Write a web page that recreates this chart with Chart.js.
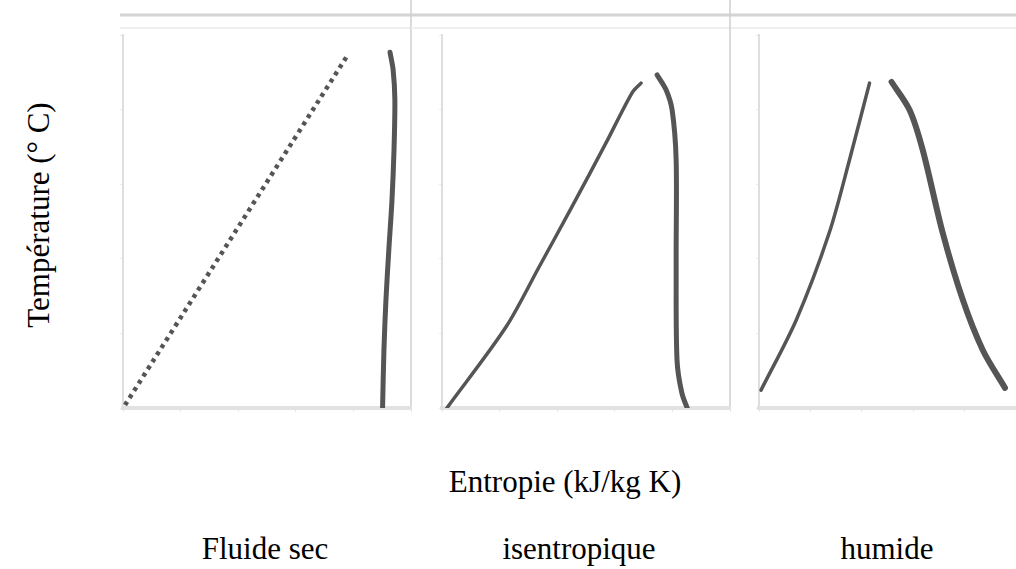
<!DOCTYPE html>
<html>
<head>
<meta charset="utf-8">
<script src="https://cdn.jsdelivr.net/npm/chart.js@4/dist/chart.umd.min.js"></script>
<style>
  body { margin: 0; background: #fff; width: 1016px; height: 569px; overflow: hidden; position: relative; font-family: "Liberation Serif", "DejaVu Serif", serif; }
  canvas { position: absolute; top: 0; }
  .lbl { position: absolute; font-size: 31px; line-height: 1; color: #000; white-space: nowrap; transform: translateX(-50%); }
  #ylab { left: 38px; top: 215px; transform: translate(-50%, -50%) rotate(-90deg); }
</style>
</head>
<body>
<canvas id="dry" width="302" height="420" style="left:110px"></canvas>
<canvas id="iso" width="320" height="420" style="left:411px"></canvas>
<canvas id="wet" width="285" height="420" style="left:731px"></canvas>

<div class="lbl" id="ylab">Température (° C)</div>
<div class="lbl" style="left:565px; top:466px">Entropie (kJ/kg K)</div>
<div class="lbl" style="left:265px; top:533px">Fluide sec</div>
<div class="lbl" style="left:579px; top:533px">isentropique</div>
<div class="lbl" style="left:887px; top:533px">humide</div>

<script>
// saturation curves, entropy (x) vs temperature (y), both in % of the panel range
const dryLiquidS = [0.7, 78];
const dryLiquidT = [0.8, 94.6];
const dryVaporS  = [92.7, 93.8, 94.4, 94.1, 93.4, 92.3, 91.3, 90.6, 90.1];
const dryVaporT  = [95.4, 90.6, 82.6, 69.2, 55.8, 42.4, 29.0, 15.5, -1];

const isoLiquidS = [1.7, 22.2, 33.7, 45.1, 56.9, 66.0, 69.1];
const isoLiquidT = [0, 21.7, 37.8, 53.9, 71.0, 84.5, 87.1];
const isoVaporS  = [74.7, 77.8, 79.9, 81.3, 81.3, 81.6, 83.3, 85.8];
const isoVaporT  = [89.3, 85.3, 79.9, 66.5, 39.7, 12.9, 4.0, -1.3];

const wetLiquidS = [0.8, 14.5, 27.3, 35.2, 43.0];
const wetLiquidT = [4.8, 23.6, 46.9, 66.5, 87.1];
const wetVaporS  = [51.6, 58.6, 63.7, 71.5, 79.3, 87.1, 95.7];
const wetVaporT  = [87.4, 79.9, 69.2, 46.9, 29.0, 15.5, 5.4];

const curveColor = '#555555';
const frameColor = '#cfcfcf';

function toPoints(xs, ys) {
  return xs.map((x, i) => ({ x: x, y: ys[i] }));
}

// light frame: top rule across the panel and the separator on the right
const framePlugin = {
  id: 'frame',
  beforeDraw(chart, args, opts) {
    const c = chart.ctx;
    const w = chart.width;
    c.save();
    c.strokeStyle = '#d4d4d4';
    c.lineWidth = 3;
    c.beginPath();
    c.moveTo(opts.topFrom || 0, 15);
    c.lineTo(w, 15);
    c.stroke();
    c.strokeStyle = '#efefef';
    c.lineWidth = 2;
    c.beginPath();
    c.moveTo(opts.topFrom || 0, 28);
    c.lineTo(w, 28);
    c.stroke();
    if (opts.rightSep) {
      c.strokeStyle = frameColor;
      c.lineWidth = 1.5;
      c.beginPath();
      c.moveTo(w - 1, 0);
      c.lineTo(w - 1, 410);
      c.stroke();
    }
    c.restore();
  }
};

function makePanel(id, liquid, vapor, pad, frame) {
  new Chart(document.getElementById(id), {
    type: 'scatter',
    data: {
      datasets: [
        Object.assign({
          data: liquid.points,
          showLine: true,
          borderColor: curveColor,
          pointRadius: 0,
          tension: 0.3,
          borderCapStyle: 'round'
        }, liquid.style),
        Object.assign({
          data: vapor.points,
          showLine: true,
          borderColor: curveColor,
          pointRadius: 0,
          tension: 0.3,
          borderCapStyle: 'round'
        }, vapor.style)
      ]
    },
    options: {
      responsive: false,
      animation: false,
      layout: { padding: pad },
      plugins: { legend: { display: false }, tooltip: { enabled: false }, frame: frame },
      scales: {
        x: {
          min: 0, max: 100,
          ticks: { display: false, stepSize: 20 },
          grid: { drawOnChartArea: false, tickLength: 4, color: '#e6e6e6' },
          border: { color: '#e2e2e2', width: 4 }
        },
        y: {
          min: 0, max: 100,
          ticks: { display: false, stepSize: 20 },
          grid: { drawOnChartArea: false, tickLength: 3, color: '#ececec' },
          border: { color: '#dedede', width: 2 }
        }
      }
    },
    plugins: [framePlugin]
  });
}

makePanel('dry',
  { points: toPoints(dryLiquidS, dryLiquidT), style: { borderWidth: 4.5, borderDash: [4, 4.5], borderCapStyle: 'butt' } },
  { points: toPoints(dryVaporS, dryVaporT), style: { borderWidth: 5 } },
  { left: 10, top: 35, right: 1, bottom: 8 },
  { topFrom: 10, rightSep: true });

makePanel('iso',
  { points: toPoints(isoLiquidS, isoLiquidT), style: { borderWidth: 3.5 } },
  { points: toPoints(isoVaporS, isoVaporT), style: { borderWidth: 5 } },
  { left: 28, top: 35, right: 1, bottom: 8 },
  { rightSep: true });

makePanel('wet',
  { points: toPoints(wetLiquidS, wetLiquidT), style: { borderWidth: 3.5 } },
  { points: toPoints(wetVaporS, wetVaporT), style: { borderWidth: 6 } },
  { left: 25, top: 35, right: 0, bottom: 8 },
  { rightSep: false });
</script>
</body>
</html>
